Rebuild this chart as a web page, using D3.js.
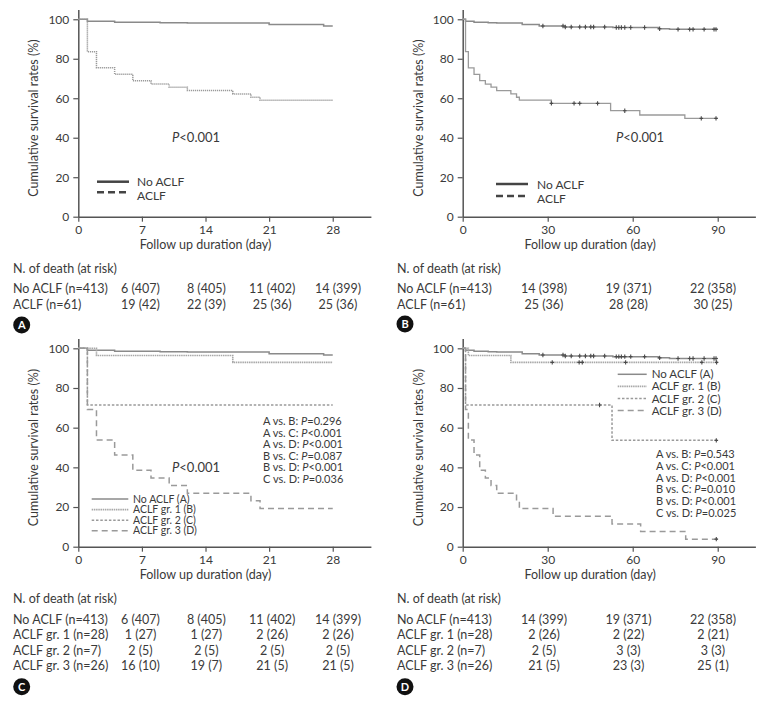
<!DOCTYPE html>
<html><head><meta charset="utf-8">
<script src="https://cdn.jsdelivr.net/npm/d3@7"></script>
<style>
html,body{margin:0;padding:0;background:#fff;}
svg text{font-family:Lato,"Open Sans",sans-serif;fill:#3a3a3a;}
</style></head>
<body>
<svg id="chart" width="764" height="701"></svg>
<script>
// ---------------- DATA ----------------
// Kaplan–Meier step data (day, survival %)
const noAclf28Days = [0, 1, 4, 9, 12, 21, 27, 28];
const noAclf28Surv = [100, 99.0, 98.5, 98.3, 98.1, 97.3, 96.6, 96.6];

const aclf28Days = [0, 1, 2, 4, 6, 8, 10, 12, 17, 19, 20, 28];
const aclf28Surv = [100, 83.6, 75.4, 72.1, 68.9, 67.2, 65.6, 63.9, 62.2, 60.5, 59.0, 59.0];

const noAclf90Days = [0, 1, 4, 9, 12, 21, 27, 36, 53, 69, 73, 90];
const noAclf90Surv = [100, 99.0, 98.5, 98.3, 98.1, 97.3, 96.6, 96.1, 95.8, 95.2, 94.9, 94.9];
const noAclf90Censor = [28.3, 35.4, 36.2, 38.3, 41.3, 43.3, 45.2, 46.2, 50.1, 54.2, 55.1, 56, 57.2, 59.3, 64.2, 69.5, 76, 80.1, 81.3, 85.2, 88.7, 89.4];

const aclf90Days = [0, 1, 2, 4, 6, 8, 10, 12, 17, 19, 20, 31.3, 52.2, 62.5, 78.4, 90];
const aclf90Surv = [100, 83.6, 75.4, 72.1, 68.9, 67.2, 65.6, 63.9, 62.2, 60.5, 59.0, 57.4, 53.7, 51.5, 49.8, 49.8];
const aclf90Censor = [31.3, 39.3, 41.3, 47.6, 57.2, 84.2, 89.4];

const gr1_28Days = [0, 2, 17, 28];
const gr1_28Surv = [100, 96.4, 92.9, 92.9];
const gr2_28Days = [0, 1, 28];
const gr2_28Surv = [100, 71.4, 71.4];
const gr3_28Days = [0, 1, 2, 4, 6, 8, 10, 12, 19, 20, 28];
const gr3_28Surv = [100, 69.2, 53.8, 46.2, 38.5, 34.6, 30.8, 26.9, 23.1, 19.2, 19.2];

const gr1_90Days = [0, 2, 17, 90];
const gr1_90Surv = [100, 96.4, 92.9, 92.9];
const gr1_90Censor = [31.6, 41.1, 42.2, 57.5, 84.4, 89.6];
const gr2_90Days = [0, 1, 52.7, 90];
const gr2_90Surv = [100, 71.4, 53.6, 53.6];
const gr2_90Censor = [48.3, 89.5];
const gr3_90Days = [0, 1, 2, 4, 6, 8, 10, 12, 19, 20, 31.9, 52.7, 62.8, 78.7, 90];
const gr3_90Surv = [100, 69.2, 53.8, 46.2, 38.5, 34.6, 30.8, 26.9, 23.1, 19.2, 15.4, 11.5, 7.7, 3.8, 3.8];
const gr3_90Censor = [89.5];

const yTicks = [0, 20, 40, 60, 80, 100];
const xTicks28 = [0, 7, 14, 21, 28];
const xTicks90 = [0, 30, 60, 90];

const riskCols28 = [7, 14, 21, 28];
const riskCols90 = [30, 60, 90];

const riskLabels2 = ["No ACLF (n=413)", "ACLF (n=61)"];
const riskLabels4 = ["No ACLF (n=413)", "ACLF gr. 1 (n=28)", "ACLF gr. 2 (n=7)", "ACLF gr. 3 (n=26)"];
const riskA = [["6 (407)", "8 (405)", "11 (402)", "14 (399)"], ["19 (42)", "22 (39)", "25 (36)", "25 (36)"]];
const riskB = [["14 (398)", "19 (371)", "22 (358)"], ["25 (36)", "28 (28)", "30 (25)"]];
const riskC = [["6 (407)", "8 (405)", "11 (402)", "14 (399)"], ["1 (27)", "1 (27)", "2 (26)", "2 (26)"], ["2 (5)", "2 (5)", "2 (5)", "2 (5)"], ["16 (10)", "19 (7)", "21 (5)", "21 (5)"]];
const riskD = [["14 (399)", "19 (371)", "22 (358)"], ["2 (26)", "2 (22)", "2 (21)"], ["2 (5)", "3 (3)", "3 (3)"], ["21 (5)", "23 (3)", "25 (1)"]];

const legend2 = ["No ACLF", "ACLF"];
const legend4 = ["No ACLF (A)", "ACLF gr. 1 (B)", "ACLF gr. 2 (C)", "ACLF gr. 3 (D)"];
const pairwiseC = [["A vs. B: ", "P", "=0.296"], ["A vs. C: ", "P", "<0.001"], ["A vs. D: ", "P", "<0.001"], ["B vs. C: ", "P", "=0.087"], ["B vs. D: ", "P", "<0.001"], ["C vs. D: ", "P", "=0.036"]];
const pairwiseD = [["A vs. B: ", "P", "=0.543"], ["A vs. C: ", "P", "<0.001"], ["A vs. D: ", "P", "<0.001"], ["B vs. C: ", "P", "=0.010"], ["B vs. D: ", "P", "<0.001"], ["C vs. D: ", "P", "=0.025"]];

// ---------------- STYLES ----------------
const STY = {
  solid: {stroke: "#8a8a8a", width: 1.5, dash: null},
  aDotted: {stroke: "#9a9a9a", width: 1.5, dash: "1.2,0.8"},
  aclfSolid: {stroke: "#9a9a9a", width: 1.3, dash: null},
  g1: {stroke: "#a8a8a8", width: 1.6, dash: "1.5,0.7"},
  g2: {stroke: "#9a9a9a", width: 1.5, dash: "2.5,1.8"},
  g3: {stroke: "#9a9a9a", width: 1.5, dash: "6,4"}
};

const svg = d3.select("#chart");

function stepVal(days, surv, t) {
  let v = surv[0];
  for (let i = 0; i < days.length; i++) if (days[i] <= t) v = surv[i];
  return v;
}

function drawPanel(p) {
  const g = svg.append("g");
  const x = d3.scaleLinear().domain([0, p.xMax]).range([p.x0, p.x1]);
  const y = d3.scaleLinear().domain([0, 105]).range([p.y0, p.y1]);

  // axes
  const ax = g.append("g").attr("transform", `translate(0,${p.y0})`)
    .call(d3.axisBottom(x).tickValues(p.xTicks).tickSize(5).tickSizeOuter(0).tickPadding(4));
  const ay = g.append("g").attr("transform", `translate(${p.x0},0)`)
    .call(d3.axisLeft(y).tickValues(yTicks).tickSize(5).tickSizeOuter(0).tickPadding(4));
  [ax, ay].forEach(a => {
    a.select(".domain").attr("stroke", "#555").attr("stroke-width", 1.5);
    a.selectAll(".tick line").attr("stroke", "#555").attr("stroke-width", 1.2);
    a.selectAll(".tick text").style("font-size", "12px").style("fill", "#3a3a3a")
      .style("font-family", "Lato, 'Open Sans', sans-serif");
  });

  g.append("text").attr("x", (x(0) + x(p.xTicks[p.xTicks.length - 1])) / 2).attr("y", p.y0 + 32)
    .attr("text-anchor", "middle").style("font-size", "12.5px").text("Follow up duration (day)");
  g.append("text").attr("transform", `translate(${p.x0 - 40},${(y(0) + y(100)) / 2}) rotate(-90)`)
    .attr("text-anchor", "middle").style("font-size", "12.5px").text("Cumulative survival rates (%)");

  // curves
  const line = d3.line().x(d => x(d[0])).y(d => y(d[1])).curve(d3.curveStepAfter);
  p.curves.forEach(c => {
    const pts = c.days.map((d, i) => [d, c.surv[i]]);
    g.append("path").datum(pts).attr("d", line).attr("fill", "none")
      .attr("stroke", c.style.stroke).attr("stroke-width", c.style.width)
      .attr("stroke-dasharray", c.style.dash);
    if (c.censor) {
      c.censor.forEach(t => {
        const cx = x(t), cy = y(stepVal(c.days, c.surv, t));
        g.append("path").attr("d", `M${cx},${cy - 2.2}V${cy + 2.2}M${cx - 1.8},${cy}H${cx + 1.8}`)
          .attr("stroke", "#4a4a4a").attr("stroke-width", 1.1);
      });
    }
  });

  // legend
  p.legend.items.forEach((lab, i) => {
    const ly = p.legend.y + i * p.legend.dy;
    const ty = p.legend.ty + i * p.legend.tdy;
    const st = p.legend.styles[i];
    g.append("line").attr("x1", p.legend.x1).attr("x2", p.legend.x2).attr("y1", ly).attr("y2", ly)
      .attr("stroke", st.stroke).attr("stroke-width", st.width).attr("stroke-dasharray", st.dash);
    g.append("text").attr("x", p.legend.tx).attr("y", ty).attr("dy", "0.35em")
      .style("font-size", p.legend.fs).text(lab);
  });

  // overall P
  if (p.pLabel) {
    const pt = g.append("text").attr("x", p.pLabel[0]).attr("y", p.pLabel[1]).attr("dy", "0.35em").style("font-size", "13px");
    pt.append("tspan").style("font-style", "italic").text("P");
    pt.append("tspan").text("<0.001");
  }

  // pairwise
  if (p.pairs) {
    p.pairs.rows.forEach((r, i) => {
      const t = g.append("text").attr("x", p.pairs.x).attr("y", p.pairs.y + i * p.pairs.dy).attr("dy", "0.35em")
        .style("font-size", "11px");
      t.append("tspan").text(r[0]);
      t.append("tspan").style("font-style", "italic").text(r[1]);
      t.append("tspan").text(r[2]);
    });
  }

  // risk table
  const col = d3.scaleLinear().domain([p.risk.cols[0], p.risk.cols[p.risk.cols.length - 1]]).range(p.risk.colRange);
  g.append("text").attr("x", p.risk.x).attr("y", p.risk.headY).attr("dy", "0.35em").style("font-size", "12.5px")
    .text("N. of death (at risk)");
  p.risk.labels.forEach((lab, i) => {
    const ry = p.risk.rowY + i * p.risk.dy;
    g.append("text").attr("x", p.risk.x).attr("y", ry).attr("dy", "0.35em").style("font-size", "12.5px").text(lab);
    p.risk.values[i].forEach((v, j) => {
      g.append("text").attr("x", col(p.risk.cols[j])).attr("y", ry).attr("dy", "0.35em")
        .attr("text-anchor", "middle").style("font-size", "12.5px").text(v);
    });
  });

  // badge
  g.append("circle").attr("cx", p.badge[0]).attr("cy", p.badge[1]).attr("r", 8.5).attr("fill", "#111");
  g.append("text").attr("x", p.badge[0]).attr("y", p.badge[1]).attr("dy", "0.36em").attr("text-anchor", "middle")
    .style("font-size", "11px").style("font-weight", "bold").style("fill", "#fff").text(p.badge[2]);
}

const legendDark = [{stroke: "#444", width: 2.5, dash: null}, {stroke: "#444", width: 2.5, dash: "7,4"}];

drawPanel({
  x0: 78.3, x1: 370.9, xMax: 32.2, y0: 216.7, y1: 9.4, xTicks: xTicks28,
  curves: [
    {days: noAclf28Days, surv: noAclf28Surv, style: STY.solid},
    {days: aclf28Days, surv: aclf28Surv, style: STY.aDotted}
  ],
  legend: {items: legend2, styles: legendDark, x1: 97, x2: 129, tx: 137, y: 181.7, dy: 10.6, ty: 182, tdy: 14, fs: "12px"},
  pLabel: [172, 137],
  risk: {x: 13, headY: 269, rowY: 289, dy: 16, labels: riskLabels2, values: riskA, cols: riskCols28, colRange: [140.5, 338]},
  badge: [21.7, 325, "A"]
});

drawPanel({
  x0: 462.7, x1: 755.4, xMax: 103.3, y0: 216.7, y1: 9.4, xTicks: xTicks90,
  curves: [
    {days: noAclf90Days, surv: noAclf90Surv, style: STY.solid, censor: noAclf90Censor},
    {days: aclf90Days, surv: aclf90Surv, style: STY.aclfSolid, censor: aclf90Censor}
  ],
  legend: {items: legend2, styles: legendDark, x1: 496, x2: 528, tx: 537, y: 184, dy: 12, ty: 184.5, tdy: 14.5, fs: "12px"},
  pLabel: [616, 137],
  risk: {x: 397, headY: 269, rowY: 289, dy: 16, labels: riskLabels2, values: riskB, cols: riskCols90, colRange: [544, 713]},
  badge: [405, 324, "B"]
});

drawPanel({
  x0: 78.3, x1: 370.9, xMax: 32.2, y0: 546.7, y1: 338.4, xTicks: xTicks28,
  curves: [
    {days: noAclf28Days, surv: noAclf28Surv, style: STY.solid},
    {days: gr1_28Days, surv: gr1_28Surv, style: STY.g1},
    {days: gr2_28Days, surv: gr2_28Surv, style: STY.g2},
    {days: gr3_28Days, surv: gr3_28Surv, style: STY.g3}
  ],
  legend: {items: legend4, styles: [STY.solid, STY.g1, STY.g2, STY.g3], x1: 91.7, x2: 128.3, tx: 133, y: 499, dy: 10.6, ty: 499, tdy: 10.6, fs: "10.5px"},
  pLabel: [172, 467.7],
  pairs: {rows: pairwiseC, x: 263, y: 421, dy: 11.65},
  risk: {x: 13, headY: 599, rowY: 619.3, dy: 15.6, labels: riskLabels4, values: riskC, cols: riskCols28, colRange: [140.5, 338]},
  badge: [21.7, 686.7, "C"]
});

drawPanel({
  x0: 462.7, x1: 755.4, xMax: 103.3, y0: 546.7, y1: 338.4, xTicks: xTicks90,
  curves: [
    {days: noAclf90Days, surv: noAclf90Surv, style: STY.solid, censor: noAclf90Censor},
    {days: gr1_90Days, surv: gr1_90Surv, style: STY.g1, censor: gr1_90Censor},
    {days: gr2_90Days, surv: gr2_90Surv, style: STY.g2, censor: gr2_90Censor},
    {days: gr3_90Days, surv: gr3_90Surv, style: STY.g3, censor: gr3_90Censor}
  ],
  legend: {items: legend4, styles: [STY.solid, STY.g1, STY.g2, STY.g3], x1: 617.7, x2: 646.7, tx: 651.7, y: 374.3, dy: 12.1, ty: 374.3, tdy: 12.1, fs: "11.5px"},
  pLabel: null,
  pairs: {rows: pairwiseD, x: 656, y: 454.3, dy: 11.7},
  risk: {x: 397, headY: 599, rowY: 619.3, dy: 15.6, labels: riskLabels4, values: riskD, cols: riskCols90, colRange: [544, 713]},
  badge: [405, 686.7, "D"]
});
</script>
</body></html>
